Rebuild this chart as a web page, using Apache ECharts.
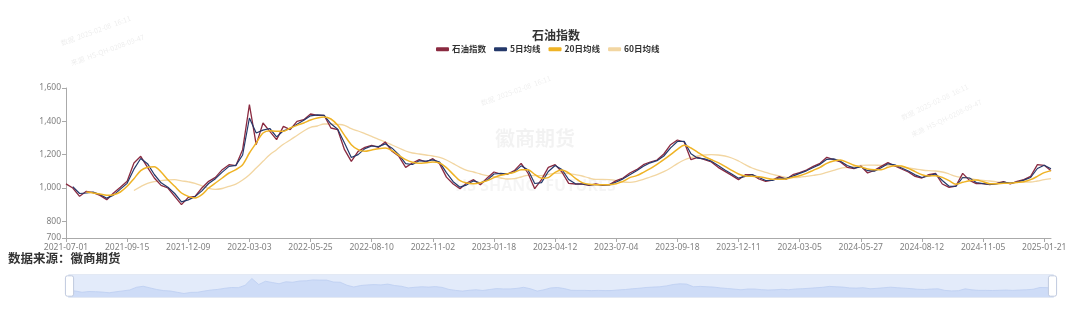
<!DOCTYPE html>
<html>
<head>
<meta charset="utf-8">
<script src="https://cdn.jsdelivr.net/npm/echarts@6/dist/echarts.min.js"></script>
<style>
html,body{margin:0;padding:0;background:#fff;}
#main{width:1080px;height:310px;}
</style>
</head>
<body>
<div id="main"></div>
<script>
const categories = [
"2021-07-01","2021-07-09","2021-07-19","2021-07-27","2021-08-04","2021-08-12","2021-08-20","2021-08-30","2021-09-07",
"2021-09-15","2021-09-24","2021-10-11","2021-10-19","2021-10-27","2021-11-04","2021-11-12","2021-11-22","2021-11-30",
"2021-12-09","2021-12-17","2021-12-27","2022-01-05","2022-01-13","2022-01-21","2022-02-07","2022-02-15","2022-02-23",
"2022-03-03","2022-03-11","2022-03-21","2022-03-29","2022-04-07","2022-04-15","2022-04-25","2022-05-06","2022-05-16",
"2022-05-25","2022-06-02","2022-06-13","2022-06-21","2022-06-29","2022-07-07","2022-07-15","2022-07-25","2022-08-02",
"2022-08-10","2022-08-18","2022-08-26","2022-09-05","2022-09-14","2022-09-22","2022-09-30","2022-10-18","2022-10-26",
"2022-11-02","2022-11-10","2022-11-18","2022-11-28","2022-12-06","2022-12-14","2022-12-22","2022-12-30","2023-01-10",
"2023-01-18","2023-02-03","2023-02-13","2023-02-21","2023-03-01","2023-03-09","2023-03-17","2023-03-27","2023-04-04",
"2023-04-12","2023-04-20","2023-04-28","2023-05-12","2023-05-22","2023-05-30","2023-06-07","2023-06-15","2023-06-27",
"2023-07-04","2023-07-12","2023-07-20","2023-07-28","2023-08-07","2023-08-15","2023-08-23","2023-08-31","2023-09-08",
"2023-09-18","2023-09-26","2023-10-12","2023-10-20","2023-10-30","2023-11-07","2023-11-15","2023-11-23","2023-12-01",
"2023-12-11","2023-12-19","2023-12-27","2024-01-05","2024-01-15","2024-01-23","2024-01-31","2024-02-08","2024-02-26",
"2024-03-05","2024-03-13","2024-03-21","2024-03-29","2024-04-10","2024-04-18","2024-04-26","2024-05-10","2024-05-20",
"2024-05-27","2024-06-04","2024-06-13","2024-06-21","2024-07-01","2024-07-09","2024-07-17","2024-07-25","2024-08-02",
"2024-08-12","2024-08-20","2024-08-28","2024-09-05","2024-09-13","2024-09-24","2024-10-09","2024-10-17","2024-10-25",
"2024-11-05","2024-11-13","2024-11-21","2024-11-29","2024-12-09","2024-12-17","2024-12-25","2025-01-03","2025-01-13",
"2025-01-21","2025-02-06"
];

const oilIndex = [
1025,1000,950,980,972,956,930,970,1004,1040,1150,1190,1124,1060,1016,1000,950,900,944,950,
1000,1040,1064,1110,1140,1134,1230,1500,1260,1390,1340,1290,1370,1350,1400,1410,1444,1436,1436,1360,
1350,1230,1160,1220,1244,1256,1244,1276,1220,1190,1124,1150,1170,1156,1176,1145,1065,1024,996,1030,
1050,1020,1060,1096,1084,1084,1104,1148,1090,996,1050,1124,1140,1096,1028,1024,1024,1016,1024,1016,
1020,1044,1060,1090,1110,1140,1156,1168,1204,1260,1288,1276,1170,1184,1170,1156,1124,1100,1076,1050,
1080,1080,1054,1040,1048,1068,1052,1080,1092,1108,1130,1148,1184,1170,1156,1124,1116,1132,1090,1106,
1130,1152,1132,1114,1096,1070,1060,1080,1088,1024,1004,1012,1088,1046,1026,1026,1020,1028,1038,1024,
1040,1050,1070,1140,1136,1104
];

const ma5 = [
null,1008,967,970,975,961,939,957,993,1028,1113,1177,1146,1081,1031,1005,967,917,929,948,
983,1027,1056,1095,1130,1136,1198,1420,1330,1347,1357,1307,1343,1357,1383,1407,1433,1439,1436,1385,
1353,1270,1183,1200,1236,1252,1248,1265,1239,1200,1146,1141,1163,1161,1169,1155,1092,1038,1005,1019,
1043,1030,1047,1084,1088,1084,1097,1133,1109,1027,1032,1099,1135,1111,1051,1025,1024,1019,1021,1019,
1019,1036,1055,1080,1103,1130,1151,1164,1192,1241,1279,1280,1205,1179,1175,1161,1135,1108,1084,1059,
1070,1080,1063,1045,1045,1061,1057,1071,1088,1103,1123,1142,1172,1175,1161,1135,1119,1127,1104,1101,
1122,1145,1139,1120,1102,1079,1063,1073,1085,1045,1011,1009,1063,1060,1033,1026,1022,1025,1035,1029,
1035,1047,1063,1117,1137,1115
];

const ma20 = [
null,null,null,976,970,964,956,960,976,1010,1056,1104,1124,1128,1096,1050,1010,970,950,940,
960,1000,1030,1060,1090,1110,1140,1210,1270,1330,1344,1340,1340,1360,1376,1390,1408,1420,1426,1414,
1376,1316,1260,1230,1220,1228,1236,1240,1224,1196,1170,1154,1148,1152,1156,1150,1122,1082,1044,1030,
1026,1032,1044,1062,1076,1086,1094,1110,1110,1082,1058,1062,1094,1108,1090,1058,1032,1022,1020,1019,
1020,1026,1040,1062,1074,1094,1116,1142,1170,1200,1232,1256,1240,1214,1188,1170,1152,1130,1106,1084,
1072,1070,1068,1060,1052,1052,1054,1064,1074,1088,1106,1124,1148,1162,1168,1154,1136,1126,1114,1110,
1110,1124,1134,1132,1118,1098,1080,1072,1074,1064,1044,1022,1034,1044,1048,1038,1026,1025,1028,1029,
1033,1038,1050,1070,1092,1104
];

const ma60 = [
null,null,null,null,null,null,null,null,null,null,985,1008,1028,1038,1044,1048,1050,1043,1037,1028,
1013,998,992,997,1010,1023,1048,1080,1120,1160,1200,1230,1262,1288,1315,1342,1364,1372,1384,1384,
1382,1376,1356,1342,1326,1310,1292,1276,1258,1240,1222,1210,1204,1198,1192,1184,1168,1146,1124,1106,
1096,1084,1074,1068,1060,1054,1056,1066,1076,1074,1074,1082,1088,1090,1086,1080,1072,1060,1052,1052,
1050,1044,1036,1034,1040,1052,1066,1080,1098,1120,1146,1168,1182,1192,1198,1200,1198,1192,1180,1162,
1140,1120,1106,1094,1082,1072,1064,1062,1064,1070,1076,1082,1094,1106,1118,1124,1130,1136,1137,1137,
1136,1136,1132,1126,1120,1114,1108,1104,1102,1096,1084,1070,1064,1058,1050,1046,1042,1037,1032,1031,
1034,1036,1036,1042,1050,1056
];

const seriesNames = ["石油指数","5日均线","20日均线","60日均线"];
const titleText = "石油指数";
const sourceText = "数据来源：徽商期货";
const yMin = 700, yMax = 1600;

// ---- CHART ----
const chart = echarts.init(document.getElementById('main'), null, {renderer:'canvas'});
const labelFont = "'Noto Sans', 'Liberation Sans', sans-serif";
const cjkFont = "'Noto Sans CJK SC', sans-serif";

const option = {
  animation: false,
  backgroundColor: '#ffffff',
  title: {
    text: titleText,
    left: 551, top: 24, textAlign: 'center',
    textStyle: {fontSize: 12, fontWeight: 'bold', color: '#333', fontFamily: cjkFont}
  },
  legend: {
    data: seriesNames,
    left: 431, top: 40,
    icon: 'roundRect', itemWidth: 13, itemHeight: 4, itemGap: 8,
    textStyle: {fontSize: 8.5, fontWeight: 'bold', color: '#333', fontFamily: cjkFont, padding:[0,0,0,-2]}
  },
  grid: {left: 66, right: 29, top: 88, bottom: 72},
  xAxis: {
    type: 'category',
    data: categories,
    boundaryGap: false,
    axisLine: {lineStyle: {color: '#aaa'}},
    axisTick: {interval: 8, length: 4, lineStyle: {color: '#aaa'}},
    axisLabel: {interval: 8, fontSize: 8.5, color: '#808080', fontFamily: labelFont, margin: 5}
  },
  yAxis: {
    type: 'value',
    min: yMin, max: yMax,
    axisLine: {show: true, lineStyle: {color: '#aaa'}},
    axisTick: {show: true, length: 4, lineStyle: {color: '#aaa'}},
    splitLine: {show: false},
    axisLabel: {fontSize: 8.5, color: '#808080', fontFamily: labelFont, margin: 5}
  },
  dataZoom: [{
    type: 'slider',
    xAxisIndex: 0,
    start: 0, end: 100,
    left: 66, right: 29, bottom: 12, height: 24,
    showDetail: false,
    brushSelect: false,
    borderColor: '#e3e9f4',
    backgroundColor: 'rgba(236,240,250,0.6)',
    fillerColor: 'rgba(170,198,245,0.22)',
    handleIcon: 'path://M2,0 h4 a2,2 0 0 1 2,2 v16 a2,2 0 0 1 -2,2 h-4 a2,2 0 0 1 -2,-2 v-16 a2,2 0 0 1 2,-2 z',
    handleSize: '85%',
    handleStyle: {color: '#fff', borderColor: '#c0cadf'},
    moveHandleSize: 0,
    dataBackground: {
      lineStyle: {color: '#c3d2f0', width: 0.8},
      areaStyle: {color: '#d2def6', opacity: 0.8}
    },
    selectedDataBackground: {
      lineStyle: {color: '#c3d2f0', width: 0.8},
      areaStyle: {color: '#d2def6', opacity: 0.8}
    }
  }],
  graphic: [
    {type: 'text', left: 8, top: 252, style: {text: sourceText, fontSize: 12.5, fontWeight: 'bold', fill: '#333', fontFamily: cjkFont}},
    {type: 'text', left: 495, top: 128, silent: true, style: {text: '徽商期货', fontSize: 20, fontWeight: 'bold', fill: 'rgba(0,0,0,0.05)', fontFamily: cjkFont}},
    {type: 'text', left: 455, top: 178, silent: true, style: {text: 'HS SHANG  FUTURES', fontSize: 16, fontWeight: 'bold', fill: 'rgba(0,0,0,0.04)', fontFamily: labelFont}},
    {type: 'text', x: 60, y: 40, rotation: 0.35, silent: true, style: {text: '数据  2025-02-08  16:11', fontSize: 7, fill: 'rgba(0,0,0,0.08)', fontFamily: cjkFont}},
    {type: 'text', x: 70, y: 60, rotation: 0.35, silent: true, style: {text: '来源  HS-QH-0208-09-47', fontSize: 7, fill: 'rgba(0,0,0,0.08)', fontFamily: cjkFont}},
    {type: 'text', x: 480, y: 100, rotation: 0.35, silent: true, style: {text: '数据  2025-02-08  16:11', fontSize: 7, fill: 'rgba(0,0,0,0.07)', fontFamily: cjkFont}},
    {type: 'text', x: 900, y: 115, rotation: 0.45, silent: true, style: {text: '数据  2025-02-08  16:11', fontSize: 7, fill: 'rgba(0,0,0,0.07)', fontFamily: cjkFont}},
    {type: 'text', x: 910, y: 132, rotation: 0.45, silent: true, style: {text: '来源  HS-QH-0208-09-47', fontSize: 7, fill: 'rgba(0,0,0,0.07)', fontFamily: cjkFont}}
  ],
  series: [
    {name: seriesNames[0], type: 'line', data: oilIndex, showSymbol: false, z: 2,
     itemStyle: {color: '#8a2a40'}, lineStyle: {color: '#8a2a40', width: 1.3}},
    {name: seriesNames[1], type: 'line', data: ma5, showSymbol: false, z: 3,
     itemStyle: {color: '#24386a'}, lineStyle: {color: '#24386a', width: 1.2}},
    {name: seriesNames[2], type: 'line', data: ma20, showSymbol: false, smooth: 0.3, z: 4,
     itemStyle: {color: '#efb325'}, lineStyle: {color: '#efb325', width: 1.5}},
    {name: seriesNames[3], type: 'line', data: ma60, showSymbol: false, smooth: 0.4, z: 1,
     itemStyle: {color: '#f2d6a2'}, lineStyle: {color: '#f2d6a2', width: 1.3}}
  ]
};
chart.setOption(option);
</script>
</body>
</html>
